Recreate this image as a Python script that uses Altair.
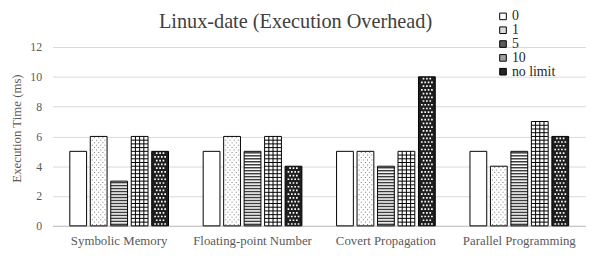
import altair as alt
import pandas as pd

TITLE = "Linux-date (Execution Overhead)"
categories = ["Symbolic Memory", "Floating-point Number", "Covert Propagation", "Parallel Programming"]
series = ["0", "1", "5", "10", "no limit"]
vals_0 = [5, 5, 5, 5]
vals_1 = [6, 6, 5, 4]
vals_5 = [3, 5, 4, 5]
vals_10 = [6, 6, 5, 7]
vals_nolimit = [5, 4, 10, 6]
y_ticks = [0, 2, 4, 6, 8, 10, 12]

rows = []
for s, vs in zip(series, [vals_0, vals_1, vals_5, vals_10, vals_nolimit]):
    for c, v in zip(categories, vs):
        rows.append({"category": c, "series": s, "value": v})
df = pd.DataFrame(rows)

FONT = "Liberation Serif"
bar_fills = ["#ffffff", "#ffffff", "#ffffff", "#ffffff", "#1e1e1e"]
legend_fills = ["#ffffff", "#dcdcdc", "#5a5a5a", "#a0a0a0", "#262626"]

x_enc = alt.X("category:N", sort=categories, title=None,
              scale=alt.Scale(paddingInner=0.26, paddingOuter=0.13),
              axis=alt.Axis(labelAngle=0, labelFont=FONT, labelFontSize=13, labelColor="#595959",
                            ticks=False, domainColor="#bfbfbf", labelPadding=9))
xo_enc = alt.XOffset("series:N", sort=series, scale=alt.Scale(paddingInner=0.18, paddingOuter=0))
y_axis = alt.Axis(values=y_ticks, grid=True, gridColor="#d9d9d9", domain=False, ticks=False,
                  labelFont=FONT, labelFontSize=12, labelColor="#595959", labelPadding=11,
                  titleFont=FONT, titleFontSize=13, titleFontWeight="normal",
                  titleColor="#595959", titlePadding=6, titleY=82)
Y_TITLE = "Execution Time (ms)"
y_scale = alt.Scale(domain=[0, 12])
y_main = alt.Y("value:Q", title=Y_TITLE, scale=y_scale, axis=y_axis)
y_lv = alt.Y("lv:Q", title=Y_TITLE, scale=y_scale, axis=y_axis)

base = alt.Chart(df)

bars = base.mark_bar(stroke=None).encode(
    x=x_enc, xOffset=xo_enc, y=y_main,
    fill=alt.Fill("series:N", sort=series, legend=None,
                  scale=alt.Scale(domain=series, range=bar_fills)),
)

legend_layer = base.transform_filter("false").mark_square(opacity=1).encode(
    x=x_enc, y=y_main,
    fill=alt.Fill("series:N", sort=series, title=None,
                  scale=alt.Scale(domain=series, range=legend_fills),
                  legend=alt.Legend(orient="none", legendX=449, legendY=-38,
                                    symbolType="square", symbolSize=45, symbolStrokeColor="black",
                                    symbolStrokeWidth=1, labelFont=FONT, labelFontSize=14,
                                    labelColor="#262626", rowPadding=0, labelOffset=2)),
)


def rows_of(sel, start, step):
    return base.transform_filter(alt.datum.series == sel).transform_calculate(
        lv=f"sequence({start}, datum.value, {step})").transform_flatten(["lv"])


def sq(cx, cy, h):
    return f"M{cx - h:.3f},{cy - h:.3f}h{2 * h:.3f}v{2 * h:.3f}h{-2 * h:.3f}Z"


layers = [bars]

# "1": light stipple of gray dots
path_1a = "".join(sq(cx, 0, 0.06) for cx in [-0.75, -0.25, 0.25, 0.75])
path_1b = "".join(sq(cx, 0, 0.06) for cx in [-0.5, 0, 0.5])
for start, p in [(1 / 12, path_1a), (1 / 4, path_1b)]:
    layers.append(rows_of("1", round(start, 4), 0.3333).mark_point(
        shape=p, size=289, filled=True, fill="#808080", strokeWidth=0, opacity=1).encode(
        x=x_enc, xOffset=xo_enc, y=y_lv))

# "5": horizontal stripes
layers.append(rows_of("5", 0.1, 0.2).mark_tick(size=17, thickness=1.5, color="#3c3c3c", opacity=1).encode(
    x=x_enc, xOffset=xo_enc, y=y_lv))

# "10": grid
layers.append(rows_of("10", 0.25, 0.25).mark_tick(size=17, thickness=1, color="#000000", opacity=1).encode(
    x=x_enc, xOffset=xo_enc, y=y_lv))
path_10 = "".join(f"M{cx},-0.23L{cx},0.23" for cx in [-0.5, 0, 0.5])
layers.append(rows_of("10", 0.125, 0.25).mark_point(
    shape=path_10, size=289, filled=False, stroke="black", strokeWidth=1, opacity=1).encode(
    x=x_enc, xOffset=xo_enc, y=y_lv))

# "no limit": white dots on dark
path_na = "".join(sq(cx, 0, 0.1) for cx in [-0.6, -0.2, 0.2, 0.6])
path_nb = "".join(sq(cx, 0, 0.1) for cx in [-0.4, 0, 0.4])
for start, p in [(0.125, path_na), (0.375, path_nb)]:
    layers.append(rows_of("no limit", start, 0.5).mark_point(
        shape=p, size=289, filled=True, fill="white", strokeWidth=0, opacity=1).encode(
        x=x_enc, xOffset=xo_enc, y=y_lv))

outline = base.mark_bar(fill=None, stroke="black", strokeWidth=1).encode(
    x=x_enc, xOffset=xo_enc, y=y_main)
layers.append(outline)
layers.append(legend_layer)

title_layer = alt.Chart(pd.DataFrame({"t": [TITLE]})).mark_text(
    font=FONT, fontSize=20.5, color="#404040", align="center", baseline="alphabetic").encode(
    x=alt.value(246), y=alt.value(-19), text="t:N")
layers.append(title_layer)

chart = alt.layer(*layers).resolve_scale(fill="independent").properties(
    width=540, height=181,
    autosize=alt.AutoSizeParams(type="none"),
    padding={"left": 45, "top": 38, "right": 0, "bottom": 26},
).configure_view(stroke=None).configure_axis(gridWidth=1).configure_legend(
    labelFont=FONT, labelFontSize=14, labelColor="#262626")

chart.save("out.html", embed_options={"renderer": "svg", "actions": False})
